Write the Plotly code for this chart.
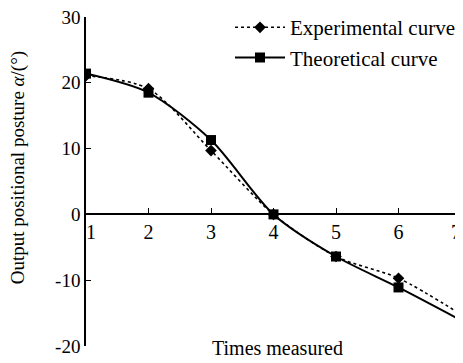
import plotly.graph_objects as go

times = [1, 2, 3, 4, 5, 6, 7]
experimental = [21.1, 19.1, 9.7, 0.0, -6.4, -9.7, -15.2]
theoretical = [21.4, 18.5, 11.3, 0.0, -6.4, -11.1, -16.1]
y_ticks = [-20, -10, 0, 10, 20, 30]
y_tick_text = ["-20", "-10", "0", "10", "20", "30"]

FONT = "Liberation Serif"
NB = "\u00a0"
PAD = "<span style='color:rgba(0,0,0,0)'>0</span>"
# end labels are nudged inwards, as in the original
x_tick_text = [str(t) for t in times]
x_tick_text[0] = NB * 2 + x_tick_text[0]
x_tick_text[-1] = x_tick_text[-1] + PAD

# the page body adds an offset, so the figure is sized to the remaining area
W, H = 455, 355
L, R, T, B = 78, 2, 9, 17
pw, ph = W - L - R, H - T - B

fig = go.Figure()
fig.add_trace(go.Scatter(
    x=times, y=experimental, name="Experimental curve", mode="lines+markers",
    line=dict(color="black", width=1.6, dash="dot", shape="spline", smoothing=0.8),
    marker=dict(symbol="diamond", size=9, color="black"),
))
fig.add_trace(go.Scatter(
    x=times, y=theoretical, name="Theoretical curve", mode="lines+markers",
    line=dict(color="black", width=2, shape="spline", smoothing=0.8),
    marker=dict(symbol="square", size=10, color="black"),
))

fig.update_layout(
    width=W, height=H,
    margin=dict(l=L, r=R, t=T, b=B, autoexpand=False),
    paper_bgcolor="white", plot_bgcolor="white",
    font=dict(family=FONT, size=20, color="black"),
    showlegend=True,
    legend=dict(x=(222 - L) / pw, y=1.03, xanchor="left", yanchor="top",
                bgcolor="rgba(0,0,0,0)", font=dict(size=21), tracegroupgap=0,
                itemwidth=50),
    xaxis=dict(range=[1, 7], tickvals=times, ticktext=x_tick_text,
               anchor="free", position=0.4, showline=True, linecolor="black",
               linewidth=1.5, ticks="inside", ticklen=6, tickcolor="black",
               showgrid=False, zeroline=False, tickfont=dict(size=20),
               ticklabeloverflow="allow", automargin=False),
    yaxis=dict(range=[-20, 30], tickvals=y_ticks, ticktext=y_tick_text,
               showline=True, linecolor="black", linewidth=1.5, ticks="inside",
               ticklen=5, tickcolor="black", showgrid=False, zeroline=False,
               tickfont=dict(size=19), ticklabeloverflow="allow",
               automargin=False),
    annotations=[
        dict(text="Times measured", xref="paper", yref="paper",
             x=(269 - L) / pw, y=-(340 - (H - B)) / ph, xanchor="center",
             yanchor="middle", showarrow=False, font=dict(size=20)),
        dict(text="Output positional posture <i>α</i>/(°)", xref="paper",
             yref="paper", x=-(L - 10) / pw, y=0.54, xanchor="center",
             yanchor="middle", textangle=-90, showarrow=False,
             font=dict(size=19)),
    ],
)
fig.write_html("out.html")
